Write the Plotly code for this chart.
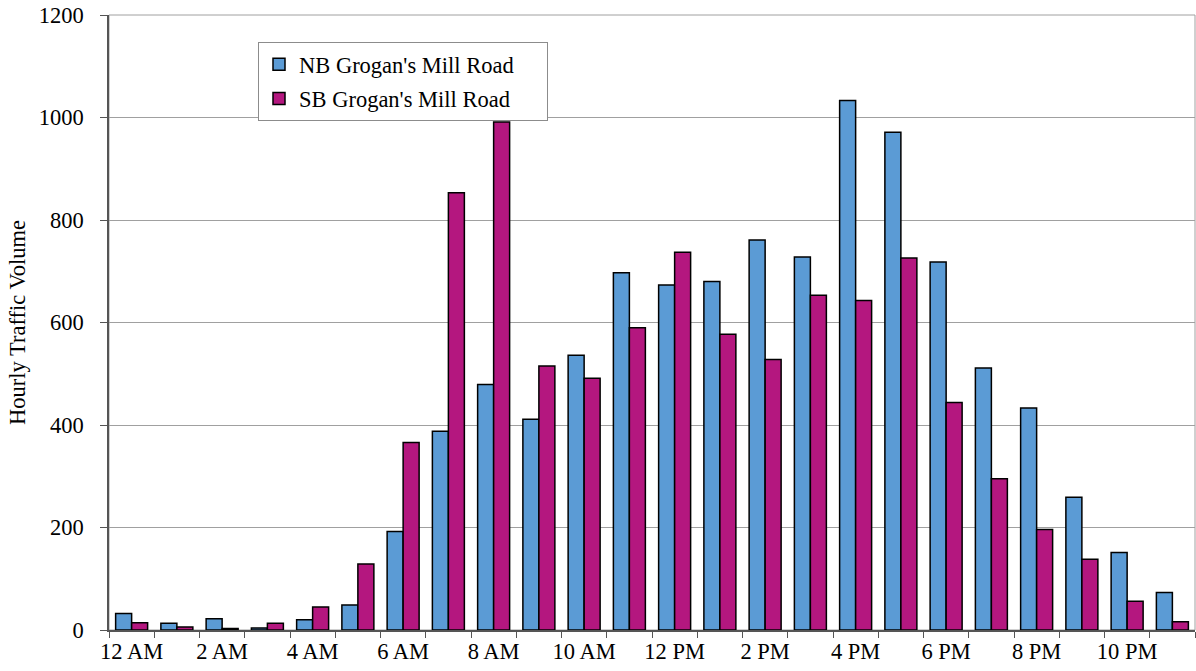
import plotly.graph_objects as go

hours = ["12 AM", "1 AM", "2 AM", "3 AM", "4 AM", "5 AM", "6 AM", "7 AM",
         "8 AM", "9 AM", "10 AM", "11 AM", "12 PM", "1 PM", "2 PM", "3 PM",
         "4 PM", "5 PM", "6 PM", "7 PM", "8 PM", "9 PM", "10 PM", "11 PM"]
nb_volume = [32, 13, 22, 4, 20, 49, 192, 388, 479, 411, 536, 697,
             673, 680, 761, 728, 1033, 971, 718, 511, 433, 259, 151, 73]
sb_volume = [14, 6, 3, 13, 45, 129, 366, 853, 991, 515, 491, 590,
             737, 577, 528, 653, 643, 726, 444, 295, 196, 138, 56, 16]
tick_labels = [h if i % 2 == 0 else "" for i, h in enumerate(hours)]
y_ticks = [0, 200, 400, 600, 800, 1000, 1200]
series_names = ["NB Grogan's Mill Road", "SB Grogan's Mill Road"]

FONT = "Liberation Serif"
FS = 22.5
PAD = "\u00a0" * 5  # right padding inside the legend box

fig = go.Figure()
fig.add_trace(go.Bar(x=hours, y=nb_volume, name=series_names[0] + PAD,
                     marker=dict(color="#5B9BD5", line=dict(color="#000000", width=1.5)),
                     legendgroup="nb"))
fig.add_trace(go.Bar(x=hours, y=sb_volume, name=series_names[1] + PAD,
                     marker=dict(color="#B4177F", line=dict(color="#000000", width=1.5)),
                     legendgroup="sb"))

fig.update_layout(
    width=1196, height=671,
    margin=dict(l=109, r=1, t=15, b=41, autoexpand=False),
    paper_bgcolor="white", plot_bgcolor="white",
    barmode="group", bargap=0.293, bargroupgap=0,
    font=dict(family=FONT, size=FS, color="#000000"),
    showlegend=True,
    legend=dict(x=0.1372, y=0.956, xanchor="left", yanchor="top",
                bgcolor="white", bordercolor="#8C8C8C", borderwidth=1,
                font=dict(family=FONT, size=FS, color="#000000"),
                traceorder="grouped", tracegroupgap=2),
    shapes=[dict(type="rect", xref="paper", yref="paper", x0=0, x1=1, y0=0, y1=1,
                 line=dict(color="#A0A0A0", width=1), layer="below")],
)
fig.update_xaxes(
    type="category", tickmode="array", tickvals=hours, ticktext=tick_labels,
    tickson="boundaries", ticks="outside", ticklen=6, tickcolor="#555555",
    tickangle=0, automargin=False,
    showline=True, linecolor="#555555", linewidth=1.5, showgrid=False,
    tickfont=dict(family=FONT, size=FS, color="#000000"),
)
fig.update_yaxes(
    range=[0, 1200], tickmode="array", tickvals=y_ticks, tickformat="d",
    ticks="outside", ticklen=7, tickcolor="#555555", automargin=False,
    showline=True, linecolor="#555555", linewidth=1.5,
    showgrid=True, gridcolor="#A0A0A0", gridwidth=1, zeroline=False,
    tickfont=dict(family=FONT, size=FS, color="#000000"),
    ticklabelstandoff=12,
    title=dict(text="Hourly Traffic Volume", font=dict(family=FONT, size=FS, color="#000000"),
               standoff=7),
)

fig.write_html("out.html", config={"displayModeBar": False},
               post_script="document.body.style.margin='0';document.body.style.overflow='hidden';")
